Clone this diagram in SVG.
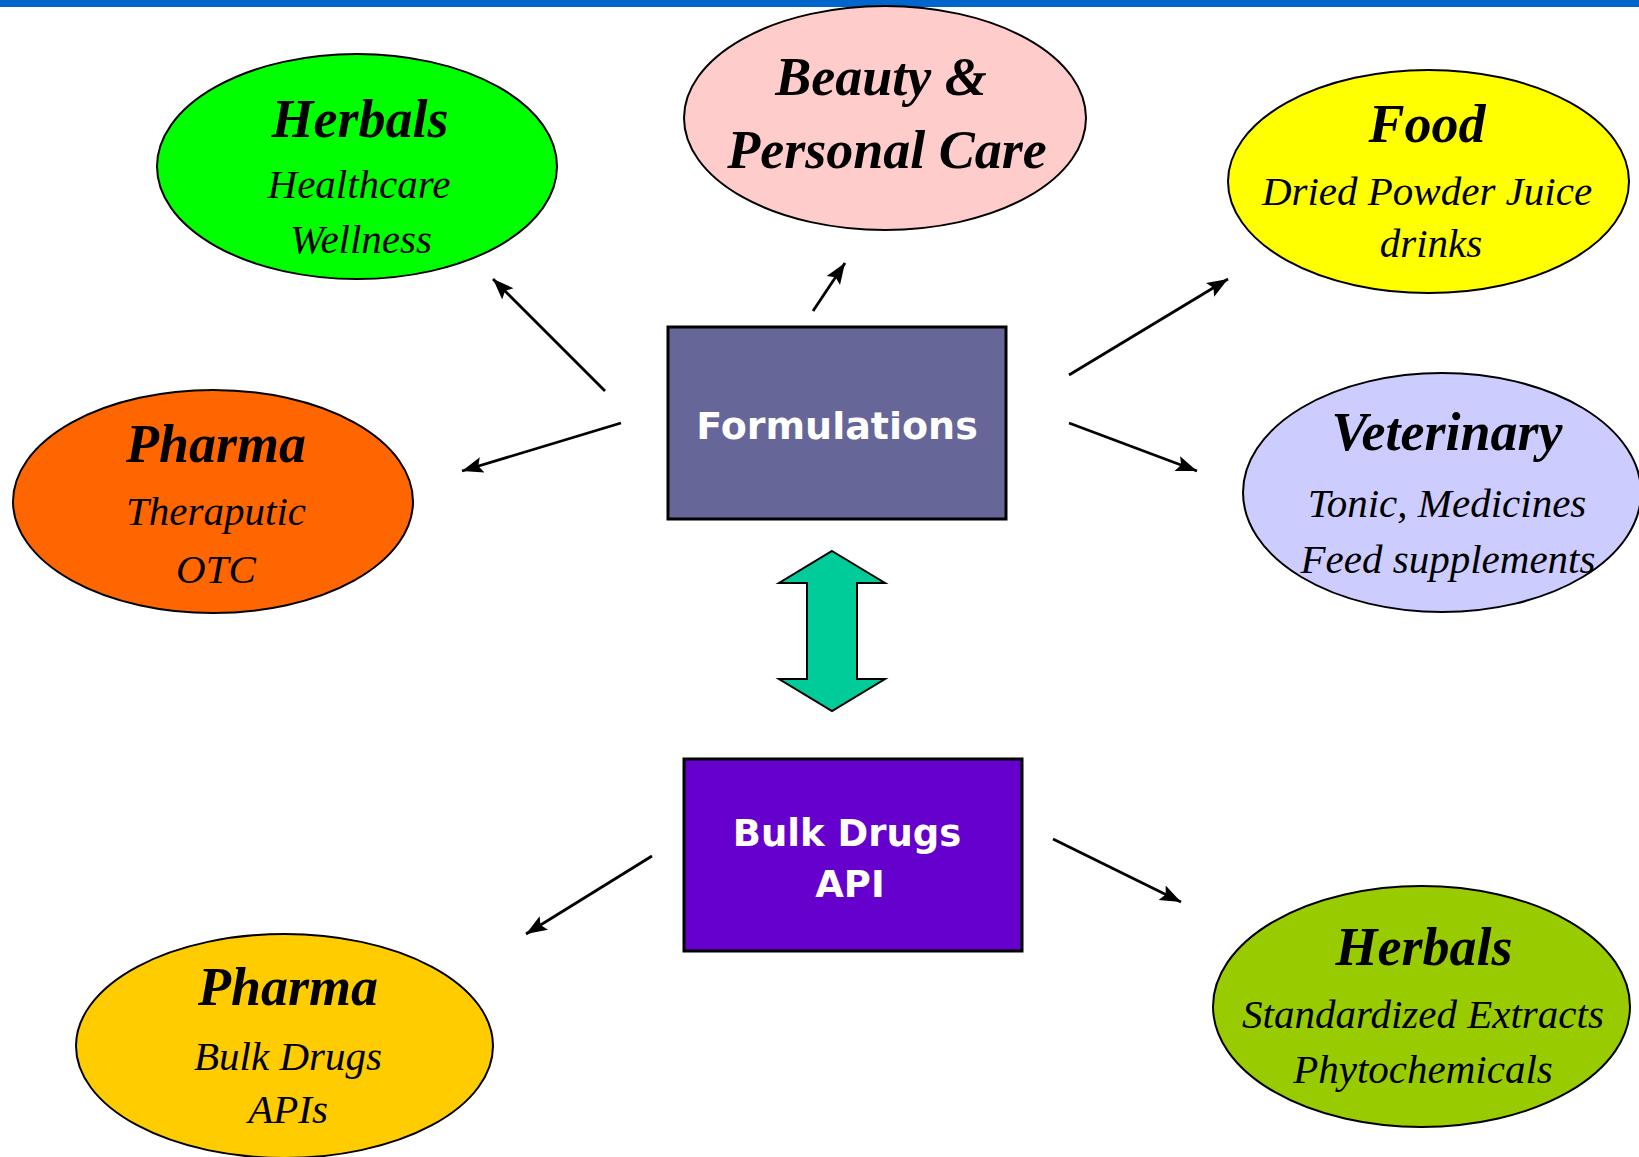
<svg xmlns="http://www.w3.org/2000/svg" width="1639" height="1157" viewBox="0 0 1639 1157">
<style>
.ell{stroke:#000;stroke-width:2}
.t{font-family:"Liberation Serif","DejaVu Serif",serif;font-style:italic;text-anchor:middle;fill:#000}
.h{font-weight:bold;font-size:54px}
.s{font-size:41px}
.box{stroke:#000;stroke-width:3}
.bt{font-family:"DejaVu Sans","Verdana",sans-serif;font-weight:bold;fill:#fff;text-anchor:middle}
.c{stroke:#000;stroke-width:2.8;fill:none;marker-end:url(#ah)}
</style>
<defs>
<marker id="ah" markerUnits="userSpaceOnUse" markerWidth="22" markerHeight="18" viewBox="0 0 22 18" refX="21" refY="9" orient="auto">
<path d="M0,1 L21,9 L0,17 L4,9 Z" fill="#000"/>
</marker>
</defs>
<rect x="0" y="0" width="1639" height="7" fill="#0066CC"/>
<g id="connectors">
<line class="c" x1="605" y1="391" x2="493" y2="279"/>
<line class="c" x1="813" y1="311" x2="845" y2="263"/>
<line class="c" x1="1069" y1="375" x2="1228" y2="279"/>
<line class="c" x1="621" y1="423" x2="462" y2="471"/>
<line class="c" x1="1069" y1="423" x2="1197" y2="471"/>
<line class="c" x1="652" y1="856" x2="526" y2="934"/>
<line class="c" x1="1053" y1="839" x2="1181" y2="902"/>
<polygon points="832,551 885,583 857,583 857,679 885,679 832,711 779,679 807,679 807,583 779,583" fill="#00CC99" stroke="#000" stroke-width="2"/>
</g>
<g id="herbals-top">
<ellipse class="ell" cx="357" cy="166.5" rx="200" ry="112.5" fill="#00FF00"/>
<text class="t h" x="360" y="137">Herbals</text>
<text class="t s" x="359" y="198">Healthcare</text>
<text class="t s" x="361" y="253">Wellness</text>
</g>
<g id="beauty">
<ellipse class="ell" cx="885" cy="118" rx="201" ry="112" fill="#FFCCCC"/>
<text class="t h" x="881" y="95">Beauty &amp;</text>
<text class="t h" x="887" y="168">Personal Care</text>
</g>
<g id="food">
<ellipse class="ell" cx="1428.5" cy="181.5" rx="200.5" ry="111.5" fill="#FFFF00"/>
<text class="t h" x="1427" y="142">Food</text>
<text class="t s" x="1427" y="205">Dried Powder Juice</text>
<text class="t s" x="1431" y="257">drinks</text>
</g>
<g id="pharma-top">
<ellipse class="ell" cx="213" cy="501.5" rx="200" ry="111.5" fill="#FF6600"/>
<text class="t h" x="216" y="462">Pharma</text>
<text class="t s" x="216" y="525">Theraputic</text>
<text class="t s" x="216" y="583">OTC</text>
</g>
<g id="veterinary">
<ellipse class="ell" cx="1442" cy="492.5" rx="199" ry="119.5" fill="#CCCCFF"/>
<text class="t h" x="1447" y="450">Veterinary</text>
<text class="t s" x="1447" y="517">Tonic, Medicines</text>
<text class="t s" x="1448" y="573">Feed supplements</text>
</g>
<g id="formulations">
<rect class="box" x="668" y="327" width="338" height="192" fill="#666699"/>
<text class="bt" x="837" y="439" font-size="38">Formulations</text>
</g>
<g id="bulk-drugs">
<rect class="box" x="684" y="759" width="338" height="192" fill="#6600CC"/>
<text class="bt" x="847" y="846" font-size="37">Bulk Drugs</text>
<text class="bt" x="850" y="897" font-size="37">API</text>
</g>
<g id="pharma-bottom">
<ellipse class="ell" cx="284.5" cy="1046" rx="208.5" ry="112" fill="#FFCC00"/>
<text class="t h" x="288" y="1005">Pharma</text>
<text class="t s" x="288" y="1070">Bulk Drugs</text>
<text class="t s" x="288" y="1123">APIs</text>
</g>
<g id="herbals-bottom">
<ellipse class="ell" cx="1421.5" cy="1006.5" rx="208.5" ry="120.5" fill="#99CC00"/>
<text class="t h" x="1424" y="965">Herbals</text>
<text class="t s" x="1423" y="1028">Standardized Extracts</text>
<text class="t s" x="1423" y="1083">Phytochemicals</text>
</g>
</svg>
